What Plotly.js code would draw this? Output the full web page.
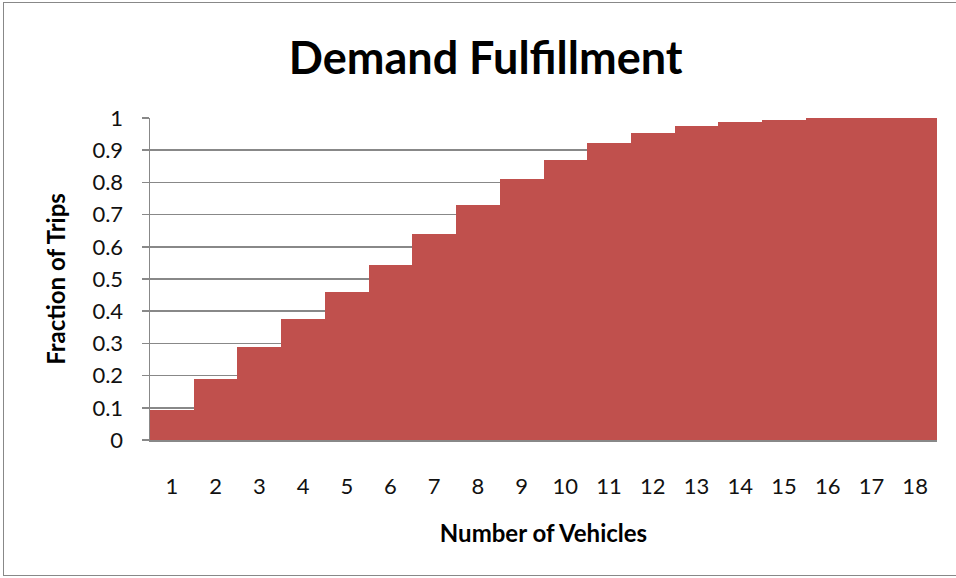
<!DOCTYPE html>
<html>
<head>
<meta charset="utf-8">
<script src="https://cdn.plot.ly/plotly-3.0.1.min.js"></script>
<style>
html,body{margin:0;padding:0;background:#fff;}
#frame{position:absolute;left:3px;top:2px;width:960px;height:574px;border:1.5px solid #888;box-sizing:border-box;}
#chart{position:absolute;left:0;top:0;width:956px;height:578px;}
</style>
</head>
<body>
<div id="frame"></div>
<div id="chart"></div>
<script>
const vehicles = ["1","2","3","4","5","6","7","8","9","10","11","12","13","14","15","16","17","18"];
const fractionOfTrips = [0.093,0.191,0.288,0.375,0.459,0.544,0.639,0.731,0.810,0.870,0.922,0.953,0.974,0.989,0.995,1.0,1.0,1.0];
const yTicks = [0,0.1,0.2,0.3,0.4,0.5,0.6,0.7,0.8,0.9,1];
const yTickText = ["0","0.1","0.2","0.3","0.4","0.5","0.6","0.7","0.8","0.9","1"];

const font = "Lato, 'Open Sans', sans-serif";

Plotly.newPlot('chart', [{
  type: 'bar',
  x: vehicles,
  y: fractionOfTrips,
  marker: {color: '#C0504D', line: {width: 0}},
  hoverinfo: 'x+y'
}], {
  width: 956, height: 578,
  margin: {l: 150, r: 19, t: 118, b: 138, pad: 0},
  paper_bgcolor: 'rgba(0,0,0,0)',
  plot_bgcolor: 'rgba(0,0,0,0)',
  bargap: 0,
  showlegend: false,
  title: {text: '<b>Demand Fulfillment</b>', x: 0.508, xanchor: 'center', y: 0.9, yanchor: 'middle',
          font: {family: font, size: 45, color: '#000'}},
  xaxis: {
    type: 'category',
    showline: true, linecolor: '#888', linewidth: 1.5,
    ticks: '', showgrid: false,
    tickfont: {family: font, size: 22, color: '#111'},
    ticklabelstandoff: 26,
    title: {text: '<b>Number of Vehicles</b>', font: {family: font, size: 24, color: '#000'}, standoff: 27}
  },
  yaxis: {
    range: [0, 1], tickvals: yTicks, ticktext: yTickText,
    showline: true, linecolor: '#888', linewidth: 1.5,
    ticks: 'outside', ticklen: 7, tickcolor: '#888', tickwidth: 1.5,
    showgrid: true, gridcolor: '#888', gridwidth: 1.5,
    zeroline: false,
    tickfont: {family: font, size: 22, color: '#111'},
    ticklabelstandoff: 14,
    title: {text: '<b>Fraction of Trips</b>', font: {family: font, size: 24, color: '#000'}, standoff: 20}
  }
}, {displayModeBar: false, staticPlot: true});
</script>
</body>
</html>
